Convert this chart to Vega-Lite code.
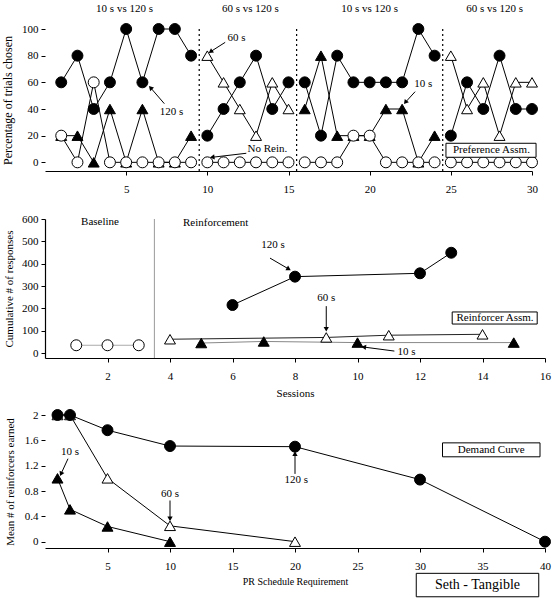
{
 "$schema": "https://vega.github.io/schema/vega-lite/v6.json",
 "padding": {"left": 1, "top": 2, "right": 5, "bottom": 3},
 "background": "white",
 "config": {
  "font": "Liberation Serif",
  "view": {"stroke": null},
  "axis": {"grid": false, "domainColor": "black", "tickColor": "black", "labelColor": "black", "titleColor": "black", "labelFont": "Liberation Serif", "titleFont": "Liberation Serif", "labelFontSize": 11, "titleFontSize": 11, "titleFontWeight": "normal", "tickSize": 4, "domainWidth": 1.2, "labelPadding": 3, "labelOverlap": false, "labelFlush": false},
  "text": {"font": "Liberation Serif", "fontSize": 11, "color": "black"}
 },
 "bounds": "flush",
 "spacing": 48,
 "resolve": {"scale": {"shape": "independent", "fill": "independent", "color": "independent"}},
 "vconcat": [
  {
   "width": 487, "height": 142,
   "layer": [
    {
     "data": {"values": [{"x": 9.5}, {"x": 15.5}, {"x": 24.5}]},
     "mark": {"type": "rule", "color": "black", "strokeDash": [2, 3], "strokeWidth": 1.2},
     "encoding": {"x": {"field": "x", "type": "quantitative", "title": null, "scale": {"domain": [0, 30], "nice": false}, "axis": {"values": [5, 10, 15, 20, 25, 30], "tickCount": 30, "format": "d", "labelPadding": 8, "labelOverlap": false}}}
    },
    {
     "data": {"values": [
      {"series": "10 s", "phase": 1, "x": 1, "y": 20}, {"series": "10 s", "phase": 1, "x": 2, "y": 20}, {"series": "10 s", "phase": 1, "x": 3, "y": 0}, {"series": "10 s", "phase": 1, "x": 4, "y": 40}, {"series": "10 s", "phase": 1, "x": 5, "y": 0}, {"series": "10 s", "phase": 1, "x": 6, "y": 40}, {"series": "10 s", "phase": 1, "x": 7, "y": 0}, {"series": "10 s", "phase": 1, "x": 8, "y": 0}, {"series": "10 s", "phase": 1, "x": 9, "y": 20},
      {"series": "10 s", "phase": 3, "x": 16, "y": 40}, {"series": "10 s", "phase": 3, "x": 17, "y": 80}, {"series": "10 s", "phase": 3, "x": 18, "y": 20}, {"series": "10 s", "phase": 3, "x": 19, "y": 20}, {"series": "10 s", "phase": 3, "x": 20, "y": 20}, {"series": "10 s", "phase": 3, "x": 21, "y": 40}, {"series": "10 s", "phase": 3, "x": 22, "y": 40}, {"series": "10 s", "phase": 3, "x": 23, "y": 0}, {"series": "10 s", "phase": 3, "x": 24, "y": 20},
      {"series": "60 s", "phase": 2, "x": 10, "y": 80}, {"series": "60 s", "phase": 2, "x": 11, "y": 60}, {"series": "60 s", "phase": 2, "x": 12, "y": 40}, {"series": "60 s", "phase": 2, "x": 13, "y": 20}, {"series": "60 s", "phase": 2, "x": 14, "y": 60}, {"series": "60 s", "phase": 2, "x": 15, "y": 40},
      {"series": "60 s", "phase": 4, "x": 25, "y": 80}, {"series": "60 s", "phase": 4, "x": 26, "y": 40}, {"series": "60 s", "phase": 4, "x": 27, "y": 60}, {"series": "60 s", "phase": 4, "x": 28, "y": 20}, {"series": "60 s", "phase": 4, "x": 29, "y": 60}, {"series": "60 s", "phase": 4, "x": 30, "y": 60},
      {"series": "No Rein.", "phase": 1, "x": 1, "y": 20}, {"series": "No Rein.", "phase": 1, "x": 2, "y": 0}, {"series": "No Rein.", "phase": 1, "x": 3, "y": 60}, {"series": "No Rein.", "phase": 1, "x": 4, "y": 0}, {"series": "No Rein.", "phase": 1, "x": 5, "y": 0}, {"series": "No Rein.", "phase": 1, "x": 6, "y": 0}, {"series": "No Rein.", "phase": 1, "x": 7, "y": 0}, {"series": "No Rein.", "phase": 1, "x": 8, "y": 0}, {"series": "No Rein.", "phase": 1, "x": 9, "y": 0},
      {"series": "No Rein.", "phase": 2, "x": 10, "y": 0}, {"series": "No Rein.", "phase": 2, "x": 11, "y": 0}, {"series": "No Rein.", "phase": 2, "x": 12, "y": 0}, {"series": "No Rein.", "phase": 2, "x": 13, "y": 0}, {"series": "No Rein.", "phase": 2, "x": 14, "y": 0}, {"series": "No Rein.", "phase": 2, "x": 15, "y": 0},
      {"series": "No Rein.", "phase": 3, "x": 16, "y": 0}, {"series": "No Rein.", "phase": 3, "x": 17, "y": 0}, {"series": "No Rein.", "phase": 3, "x": 18, "y": 0}, {"series": "No Rein.", "phase": 3, "x": 19, "y": 20}, {"series": "No Rein.", "phase": 3, "x": 20, "y": 20}, {"series": "No Rein.", "phase": 3, "x": 21, "y": 0}, {"series": "No Rein.", "phase": 3, "x": 22, "y": 0}, {"series": "No Rein.", "phase": 3, "x": 23, "y": 0}, {"series": "No Rein.", "phase": 3, "x": 24, "y": 0},
      {"series": "No Rein.", "phase": 4, "x": 25, "y": 0}, {"series": "No Rein.", "phase": 4, "x": 26, "y": 0}, {"series": "No Rein.", "phase": 4, "x": 27, "y": 0}, {"series": "No Rein.", "phase": 4, "x": 28, "y": 0}, {"series": "No Rein.", "phase": 4, "x": 29, "y": 0}, {"series": "No Rein.", "phase": 4, "x": 30, "y": 0},
      {"series": "120 s", "phase": 1, "x": 1, "y": 60}, {"series": "120 s", "phase": 1, "x": 2, "y": 80}, {"series": "120 s", "phase": 1, "x": 3, "y": 40}, {"series": "120 s", "phase": 1, "x": 4, "y": 60}, {"series": "120 s", "phase": 1, "x": 5, "y": 100}, {"series": "120 s", "phase": 1, "x": 6, "y": 60}, {"series": "120 s", "phase": 1, "x": 7, "y": 100}, {"series": "120 s", "phase": 1, "x": 8, "y": 100}, {"series": "120 s", "phase": 1, "x": 9, "y": 80},
      {"series": "120 s", "phase": 2, "x": 10, "y": 20}, {"series": "120 s", "phase": 2, "x": 11, "y": 40}, {"series": "120 s", "phase": 2, "x": 12, "y": 60}, {"series": "120 s", "phase": 2, "x": 13, "y": 80}, {"series": "120 s", "phase": 2, "x": 14, "y": 40}, {"series": "120 s", "phase": 2, "x": 15, "y": 60},
      {"series": "120 s", "phase": 3, "x": 16, "y": 60}, {"series": "120 s", "phase": 3, "x": 17, "y": 20}, {"series": "120 s", "phase": 3, "x": 18, "y": 80}, {"series": "120 s", "phase": 3, "x": 19, "y": 60}, {"series": "120 s", "phase": 3, "x": 20, "y": 60}, {"series": "120 s", "phase": 3, "x": 21, "y": 60}, {"series": "120 s", "phase": 3, "x": 22, "y": 60}, {"series": "120 s", "phase": 3, "x": 23, "y": 100}, {"series": "120 s", "phase": 3, "x": 24, "y": 80},
      {"series": "120 s", "phase": 4, "x": 25, "y": 20}, {"series": "120 s", "phase": 4, "x": 26, "y": 60}, {"series": "120 s", "phase": 4, "x": 27, "y": 40}, {"series": "120 s", "phase": 4, "x": 28, "y": 80}, {"series": "120 s", "phase": 4, "x": 29, "y": 40}, {"series": "120 s", "phase": 4, "x": 30, "y": 40}
     ]},
     "layer": [
      {
       "mark": {"type": "line", "color": "black", "strokeWidth": 1},
       "encoding": {
        "x": {"field": "x", "type": "quantitative", "title": null, "scale": {"domain": [0, 30], "nice": false}},
        "y": {"field": "y", "type": "quantitative", "title": "Percentage of trials chosen", "scale": {"domain": [-6.5, 100], "nice": false}, "axis": {"values": [0, 20, 40, 60, 80, 100], "tickCount": 20, "format": "d", "titlePadding": 7, "titleFontSize": 12, "domain": false, "labelOverlap": false}},
        "detail": [{"field": "series"}, {"field": "phase"}]
       }
      },
      {
       "mark": {"type": "point", "filled": true, "stroke": "black", "strokeWidth": 1, "opacity": 1, "size": 120},
       "encoding": {
        "x": {"field": "x", "type": "quantitative", "title": null, "scale": {"domain": [0, 30], "nice": false}},
        "y": {"field": "y", "type": "quantitative", "title": "Percentage of trials chosen", "scale": {"domain": [-6.5, 100], "nice": false}},
        "shape": {"field": "series", "type": "nominal", "scale": {"domain": ["10 s", "60 s", "No Rein.", "120 s"], "range": ["triangle-up", "triangle-up", "circle", "circle"]}, "legend": null},
        "fill": {"field": "series", "type": "nominal", "scale": {"domain": ["10 s", "60 s", "No Rein.", "120 s"], "range": ["black", "white", "white", "black"]}, "legend": null}
       }
      }
     ]
    },
    {
     "data": {"values": [{"x": 24.7, "xe": 30.25, "y": 14.3, "ye": 3.8}]},
     "mark": {"type": "rect", "fill": "white", "stroke": "black", "strokeWidth": 1},
     "encoding": {
      "x": {"field": "x", "type": "quantitative", "title": null, "scale": {"domain": [0, 30], "nice": false}}, "x2": {"field": "xe"},
      "y": {"field": "y", "type": "quantitative", "title": "Percentage of trials chosen", "scale": {"domain": [-6.5, 100], "nice": false}}, "y2": {"field": "ye"}
     }
    },
    {
     "data": {"values": [
      {"x": 4.9, "y": 115, "label": "10 s vs 120 s"}, {"x": 12.65, "y": 115, "label": "60 s vs 120 s"}, {"x": 20, "y": 115, "label": "10 s vs 120 s"}, {"x": 27.7, "y": 115, "label": "60 s vs 120 s"},
      {"x": 11.8, "y": 93, "label": "60 s"}, {"x": 7.8, "y": 38, "label": "120 s"}, {"x": 13.7, "y": 9.8, "label": "No Rein."}, {"x": 23.3, "y": 58.6, "label": "10 s"}, {"x": 27.5, "y": 9, "label": "Preference Assm."}
     ]},
     "mark": {"type": "text", "baseline": "middle", "align": "center"},
     "encoding": {
      "x": {"field": "x", "type": "quantitative", "title": null, "scale": {"domain": [0, 30], "nice": false}},
      "y": {"field": "y", "type": "quantitative", "title": "Percentage of trials chosen", "scale": {"domain": [-6.5, 100], "nice": false}},
      "text": {"field": "label"}
     }
    },
    {
     "data": {"values": [
      {"x": 10.2, "y": 83, "xs": 11.1, "ys": 90, "dir": 236},
      {"x": 6.5, "y": 56, "xs": 7.35, "ys": 44, "dir": 317},
      {"x": 10.3, "y": 3.8, "xs": 12.4, "ys": 6.8, "dir": 263},
      {"x": 22.2, "y": 45, "xs": 22.8, "ys": 53, "dir": 219}
     ]},
     "layer": [
      {"mark": {"type": "rule", "color": "black", "strokeWidth": 1},
       "encoding": {
        "x": {"field": "x", "type": "quantitative", "title": null, "scale": {"domain": [0, 30], "nice": false}}, "x2": {"field": "xs"},
        "y": {"field": "y", "type": "quantitative", "title": "Percentage of trials chosen", "scale": {"domain": [-6.5, 100], "nice": false}}, "y2": {"field": "ys"}
       }},
      {"mark": {"type": "point", "shape": "triangle-up", "filled": true, "color": "black", "size": 28, "opacity": 1},
       "encoding": {
        "x": {"field": "x", "type": "quantitative", "title": null, "scale": {"domain": [0, 30], "nice": false}},
        "y": {"field": "y", "type": "quantitative", "title": "Percentage of trials chosen", "scale": {"domain": [-6.5, 100], "nice": false}},
        "angle": {"field": "dir", "type": "quantitative", "scale": null}
       }}
     ]
    }
   ]
  },
  {
   "bounds": "flush",
   "spacing": 57,
   "resolve": {"scale": {"shape": "independent", "fill": "independent", "color": "independent"}},
   "vconcat": [
    {
     "width": 500, "height": 139,
     "layer": [
      {
       "data": {"values": [{"x": 3.5}]},
       "mark": {"type": "rule", "color": "#999999", "strokeWidth": 1},
       "encoding": {"x": {"field": "x", "type": "quantitative", "title": "Sessions", "scale": {"domain": [0, 16], "nice": false}, "axis": {"values": [2, 4, 6, 8, 10, 12, 14, 16], "tickCount": 30, "format": "d", "labelPadding": 8, "titlePadding": 6, "labelOverlap": false}}}
      },
      {
       "data": {"values": [
        {"series": "10 s", "x": 5, "y": 45}, {"series": "10 s", "x": 7, "y": 52}, {"series": "10 s", "x": 10, "y": 47}, {"series": "10 s", "x": 15, "y": 47},
        {"series": "60 s", "x": 4, "y": 62}, {"series": "60 s", "x": 9, "y": 70}, {"series": "60 s", "x": 11, "y": 80}, {"series": "60 s", "x": 14, "y": 84},
        {"series": "Baseline", "x": 1, "y": 35}, {"series": "Baseline", "x": 2, "y": 35}, {"series": "Baseline", "x": 3, "y": 35},
        {"series": "120 s", "x": 6, "y": 215}, {"series": "120 s", "x": 8, "y": 342}, {"series": "120 s", "x": 12, "y": 357}, {"series": "120 s", "x": 13, "y": 449}
       ]},
       "layer": [
        {
         "mark": {"type": "line", "strokeWidth": 1},
         "encoding": {
          "x": {"field": "x", "type": "quantitative", "title": "Sessions", "scale": {"domain": [0, 16], "nice": false}},
          "y": {"field": "y", "type": "quantitative", "title": "Cumulative # of responses", "scale": {"domain": [-22, 600], "nice": false}, "axis": {"values": [0, 100, 200, 300, 400, 500, 600], "tickCount": 20, "format": "d", "titlePadding": 7, "labelOverlap": false}},
          "detail": {"field": "series"},
          "color": {"field": "series", "type": "nominal", "scale": {"domain": ["Baseline", "10 s", "60 s", "120 s"], "range": ["#aaaaaa", "#888888", "#222222", "black"]}, "legend": null}
         }
        },
        {
         "mark": {"type": "point", "filled": true, "stroke": "black", "strokeWidth": 1, "opacity": 1, "size": 120},
         "encoding": {
          "x": {"field": "x", "type": "quantitative", "title": "Sessions", "scale": {"domain": [0, 16], "nice": false}},
          "y": {"field": "y", "type": "quantitative", "title": "Cumulative # of responses", "scale": {"domain": [-22, 600], "nice": false}},
          "shape": {"field": "series", "type": "nominal", "scale": {"domain": ["Baseline", "10 s", "60 s", "120 s"], "range": ["circle", "triangle-up", "triangle-up", "circle"]}, "legend": null},
          "fill": {"field": "series", "type": "nominal", "scale": {"domain": ["Baseline", "10 s", "60 s", "120 s"], "range": ["white", "black", "white", "black"]}, "legend": null}
         }
        }
       ]
      },
      {
       "data": {"values": [{"x": 13.03, "xe": 15.75, "y": 184, "ye": 130}]},
       "mark": {"type": "rect", "fill": "white", "stroke": "black", "strokeWidth": 1},
       "encoding": {
        "x": {"field": "x", "type": "quantitative", "title": "Sessions", "scale": {"domain": [0, 16], "nice": false}}, "x2": {"field": "xe"},
        "y": {"field": "y", "type": "quantitative", "title": "Cumulative # of responses", "scale": {"domain": [-22, 600], "nice": false}}, "y2": {"field": "ye"}
       }
      },
      {
       "data": {"values": [
        {"x": 1.76, "y": 587, "label": "Baseline"}, {"x": 5.46, "y": 582, "label": "Reinforcement"},
        {"x": 7.3, "y": 484, "label": "120 s"}, {"x": 9.0, "y": 246, "label": "60 s"}, {"x": 11.57, "y": 4, "label": "10 s"}, {"x": 14.4, "y": 157, "label": "Reinforcer Assm."}
       ]},
       "mark": {"type": "text", "baseline": "middle", "align": "center"},
       "encoding": {
        "x": {"field": "x", "type": "quantitative", "title": "Sessions", "scale": {"domain": [0, 16], "nice": false}},
        "y": {"field": "y", "type": "quantitative", "title": "Cumulative # of responses", "scale": {"domain": [-22, 600], "nice": false}},
        "text": {"field": "label"}
       }
      },
      {
       "data": {"values": [
        {"x": 7.8, "y": 376, "xs": 7.2, "ys": 425, "dir": 120},
        {"x": 9, "y": 107, "xs": 9, "ys": 210, "dir": 180},
        {"x": 10.2, "y": 27, "xs": 11.18, "ys": 9, "dir": 278}
       ]},
       "layer": [
        {"mark": {"type": "rule", "color": "black", "strokeWidth": 1},
         "encoding": {
          "x": {"field": "x", "type": "quantitative", "title": "Sessions", "scale": {"domain": [0, 16], "nice": false}}, "x2": {"field": "xs"},
          "y": {"field": "y", "type": "quantitative", "title": "Cumulative # of responses", "scale": {"domain": [-22, 600], "nice": false}}, "y2": {"field": "ys"}
         }},
        {"mark": {"type": "point", "shape": "triangle-up", "filled": true, "color": "black", "size": 28, "opacity": 1},
         "encoding": {
          "x": {"field": "x", "type": "quantitative", "title": "Sessions", "scale": {"domain": [0, 16], "nice": false}},
          "y": {"field": "y", "type": "quantitative", "title": "Cumulative # of responses", "scale": {"domain": [-22, 600], "nice": false}},
          "angle": {"field": "dir", "type": "quantitative", "scale": null}
         }}
       ]
      }
     ]
    },
    {
     "width": 500, "height": 133,
     "layer": [
      {
       "data": {"values": [
        {"series": "10 s", "x": 1, "y": 1.0}, {"series": "10 s", "x": 2, "y": 0.51}, {"series": "10 s", "x": 5, "y": 0.24}, {"series": "10 s", "x": 10, "y": 0},
        {"series": "60 s", "x": 1, "y": 2}, {"series": "60 s", "x": 2, "y": 2}, {"series": "60 s", "x": 5, "y": 1.0}, {"series": "60 s", "x": 10, "y": 0.25}, {"series": "60 s", "x": 20, "y": 0},
        {"series": "120 s", "x": 1, "y": 2}, {"series": "120 s", "x": 2, "y": 2}, {"series": "120 s", "x": 5, "y": 1.76}, {"series": "120 s", "x": 10, "y": 1.51}, {"series": "120 s", "x": 20, "y": 1.5}, {"series": "120 s", "x": 30, "y": 0.98}, {"series": "120 s", "x": 40, "y": 0}
       ]},
       "layer": [
        {
         "mark": {"type": "line", "color": "black", "strokeWidth": 1},
         "encoding": {
          "x": {"field": "x", "type": "quantitative", "title": "PR Schedule Requirement", "scale": {"domain": [0, 40], "nice": false}, "axis": {"values": [5, 10, 15, 20, 25, 30, 35, 40], "tickCount": 30, "format": "d", "labelPadding": 8, "titlePadding": 5, "titleFontSize": 10, "labelOverlap": false}},
          "y": {"field": "y", "type": "quantitative", "title": "Mean # of reinforcers earned", "scale": {"domain": [-0.1, 2], "nice": false}, "axis": {"values": [0, 0.4, 0.8, 1.2, 1.6, 2], "tickCount": 20, "format": ".2~f", "titlePadding": 9, "domain": false, "labelOverlap": false}},
          "detail": {"field": "series"}
         }
        },
        {
         "mark": {"type": "point", "filled": true, "stroke": "black", "strokeWidth": 1, "opacity": 1, "size": 120},
         "encoding": {
          "x": {"field": "x", "type": "quantitative", "title": "PR Schedule Requirement", "scale": {"domain": [0, 40], "nice": false}},
          "y": {"field": "y", "type": "quantitative", "title": "Mean # of reinforcers earned", "scale": {"domain": [-0.1, 2], "nice": false}},
          "shape": {"field": "series", "type": "nominal", "scale": {"domain": ["10 s", "60 s", "120 s"], "range": ["triangle-up", "triangle-up", "circle"]}, "legend": null},
          "fill": {"field": "series", "type": "nominal", "scale": {"domain": ["10 s", "60 s", "120 s"], "range": ["black", "white", "black"]}, "legend": null}
         }
        }
       ]
      },
      {
       "data": {"values": [{"x": 31.8, "xe": 39.6, "y": 1.56, "ye": 1.34}, {"x": 29.7, "xe": 39.5, "y": -0.5, "ye": -0.87}]},
       "mark": {"type": "rect", "fill": "white", "stroke": "black", "strokeWidth": 1},
       "encoding": {
        "x": {"field": "x", "type": "quantitative", "title": "PR Schedule Requirement", "scale": {"domain": [0, 40], "nice": false}}, "x2": {"field": "xe"},
        "y": {"field": "y", "type": "quantitative", "title": "Mean # of reinforcers earned", "scale": {"domain": [-0.1, 2], "nice": false}}, "y2": {"field": "ye"}
       }
      },
      {
       "data": {"values": [
        {"x": 2.0, "y": 1.42, "label": "10 s"}, {"x": 10.0, "y": 0.76, "label": "60 s"}, {"x": 20.1, "y": 0.97, "label": "120 s"}, {"x": 35.7, "y": 1.45, "label": "Demand Curve"}
       ]},
       "mark": {"type": "text", "baseline": "middle", "align": "center"},
       "encoding": {
        "x": {"field": "x", "type": "quantitative", "title": "PR Schedule Requirement", "scale": {"domain": [0, 40], "nice": false}},
        "y": {"field": "y", "type": "quantitative", "title": "Mean # of reinforcers earned", "scale": {"domain": [-0.1, 2], "nice": false}},
        "text": {"field": "label"}
       }
      },
      {
       "data": {"values": [{"x": 34.6, "y": -0.685, "label": "Seth - Tangible"}]},
       "mark": {"type": "text", "baseline": "middle", "align": "center", "fontSize": 14},
       "encoding": {
        "x": {"field": "x", "type": "quantitative", "title": "PR Schedule Requirement", "scale": {"domain": [0, 40], "nice": false}},
        "y": {"field": "y", "type": "quantitative", "title": "Mean # of reinforcers earned", "scale": {"domain": [-0.1, 2], "nice": false}},
        "text": {"field": "label"}
       }
      },
      {
       "data": {"values": [
        {"x": 1.28, "y": 1.07, "xs": 1.84, "ys": 1.31, "dir": 205},
        {"x": 10, "y": 0.36, "xs": 10, "ys": 0.65, "dir": 180},
        {"x": 20, "y": 1.39, "xs": 20, "ys": 1.07, "dir": 0}
       ]},
       "layer": [
        {"mark": {"type": "rule", "color": "black", "strokeWidth": 1},
         "encoding": {
          "x": {"field": "x", "type": "quantitative", "title": "PR Schedule Requirement", "scale": {"domain": [0, 40], "nice": false}}, "x2": {"field": "xs"},
          "y": {"field": "y", "type": "quantitative", "title": "Mean # of reinforcers earned", "scale": {"domain": [-0.1, 2], "nice": false}}, "y2": {"field": "ys"}
         }},
        {"mark": {"type": "point", "shape": "triangle-up", "filled": true, "color": "black", "size": 28, "opacity": 1},
         "encoding": {
          "x": {"field": "x", "type": "quantitative", "title": "PR Schedule Requirement", "scale": {"domain": [0, 40], "nice": false}},
          "y": {"field": "y", "type": "quantitative", "title": "Mean # of reinforcers earned", "scale": {"domain": [-0.1, 2], "nice": false}},
          "angle": {"field": "dir", "type": "quantitative", "scale": null}
         }}
       ]
      }
     ]
    }
   ]
  }
 ]
}
